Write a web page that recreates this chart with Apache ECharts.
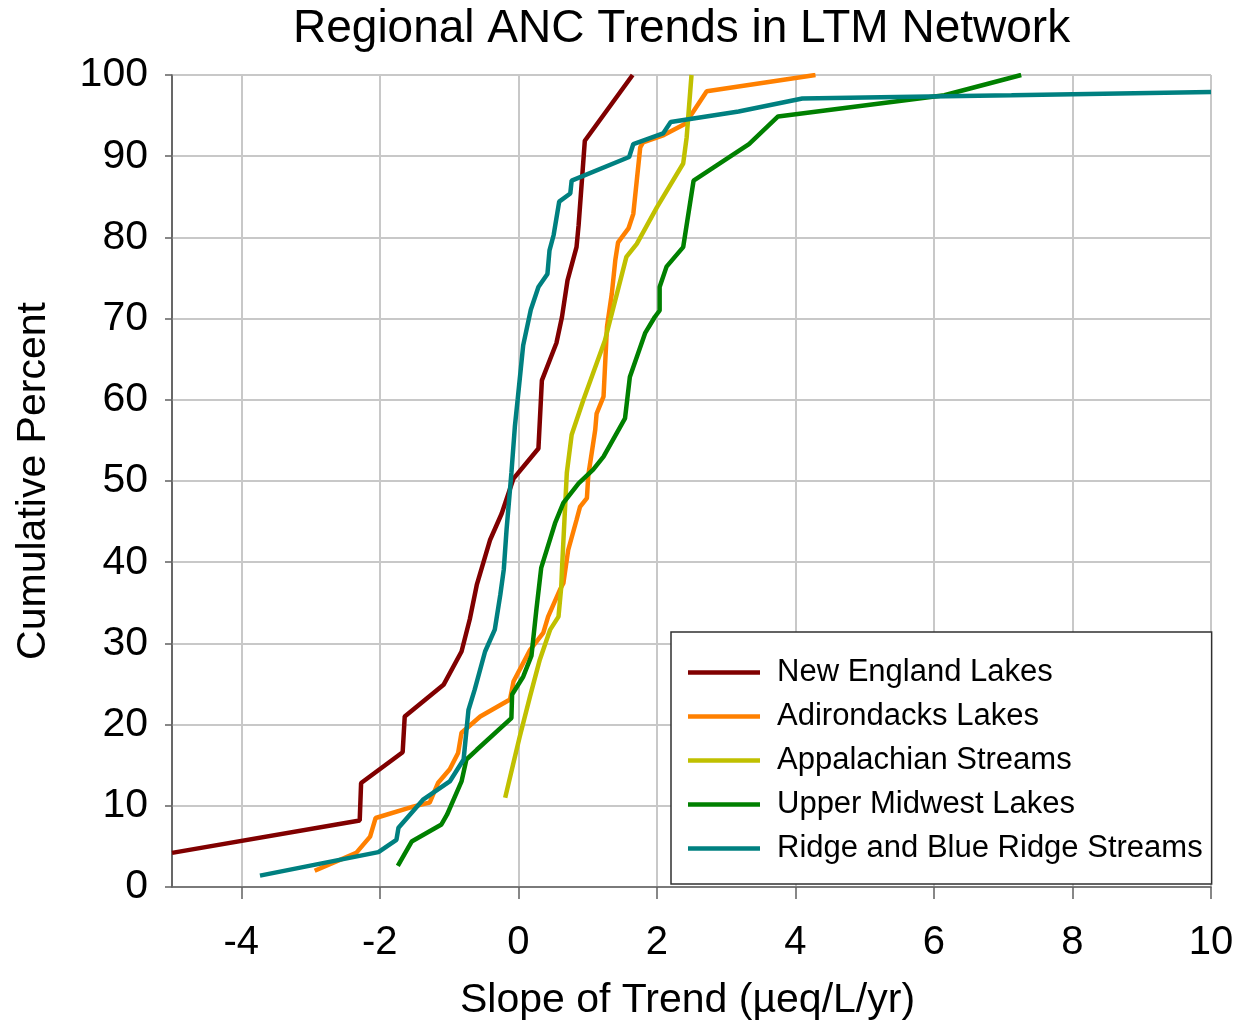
<!DOCTYPE html>
<html>
<head>
<meta charset="utf-8">
<title>Regional ANC Trends in LTM Network</title>
<script src="https://cdn.jsdelivr.net/npm/echarts@6/dist/echarts.min.js"></script>
<style>
  html, body { margin: 0; padding: 0; background: #ffffff; }
  #chart { width: 1243px; height: 1026px; }
</style>
</head>
<body>
<div id="chart"></div>
<script>
// Cumulative distributions of ANC trend slopes (µeq/L/yr) by region
const seriesNames = [
  'New England Lakes',
  'Adirondacks Lakes',
  'Appalachian Streams',
  'Upper Midwest Lakes',
  'Ridge and Blue Ridge Streams'
];

const newEnglandSlope = [-5.0, -2.29, -2.27, -1.67, -1.64, -1.08, -0.82, -0.70, -0.60, -0.41, -0.24, -0.07, 0.29, 0.34, 0.55, 0.63, 0.71, 0.84, 0.87, 0.96, 1.65];
const newEnglandPct   = [4.2, 8.2, 12.8, 16.6, 21.0, 24.9, 29.0, 33.0, 37.2, 42.7, 46.0, 50.3, 54.0, 62.4, 67.0, 70.2, 74.7, 78.8, 81.5, 91.9, 100];

const adirondacksSlope = [-2.94, -2.34, -2.14, -2.06, -1.52, -1.28, -1.16, -0.99, -0.87, -0.82, -0.55, -0.12, -0.07, 0.17, 0.36, 0.43, 0.60, 0.65, 0.72, 0.84, 0.89, 0.99, 1.01, 1.11, 1.13, 1.23, 1.28, 1.35, 1.40, 1.44, 1.59, 1.66, 1.76, 1.80, 2.10, 2.41, 2.72, 4.29];
const adirondacksPct   = [2.0, 4.2, 6.2, 8.5, 9.9, 10.4, 12.8, 14.5, 16.5, 19.0, 21.0, 23.1, 25.3, 29.2, 31.3, 33.3, 36.6, 37.4, 41.5, 45.2, 46.8, 47.9, 50.7, 56.3, 58.3, 60.4, 69.0, 73.1, 77.2, 79.4, 81.1, 82.9, 91.1, 91.7, 92.6, 94.0, 98.0, 100];

const appalachianSlope = [-0.19, -0.07, 0.02, 0.17, 0.31, 0.46, 0.58, 0.62, 0.63, 0.70, 0.77, 0.94, 1.25, 1.56, 1.71, 2.00, 2.38, 2.43, 2.50];
const appalachianPct   = [11.0, 15.3, 18.5, 23.5, 28.0, 31.7, 33.3, 37.0, 39.1, 51.0, 55.7, 60.0, 67.3, 77.6, 79.2, 83.7, 89.1, 92.3, 100];

const midwestSlope = [-1.74, -1.54, -1.11, -1.03, -0.82, -0.75, -0.60, -0.10, -0.09, 0.07, 0.19, 0.26, 0.33, 0.53, 0.65, 0.87, 1.08, 1.23, 1.54, 1.61, 1.83, 1.97, 2.04, 2.04, 2.14, 2.38, 2.53, 3.33, 3.75, 6.15, 7.26];
const midwestPct   = [2.6, 5.6, 7.7, 8.9, 13.0, 15.7, 16.9, 20.8, 23.7, 25.9, 28.5, 34.1, 39.3, 44.8, 47.3, 49.7, 51.4, 53.0, 57.7, 62.8, 68.2, 70.2, 71.0, 73.9, 76.4, 78.8, 87.0, 91.5, 94.9, 97.5, 100];

const blueRidgeSlope = [-3.73, -2.02, -1.76, -1.73, -1.37, -0.99, -0.79, -0.72, -0.63, -0.48, -0.34, -0.26, -0.21, -0.17, -0.10, -0.05, -0.01, 0.07, 0.18, 0.29, 0.42, 0.45, 0.51, 0.59, 0.75, 0.77, 1.60, 1.66, 2.09, 2.20, 3.18, 4.10, 5.46, 7.12, 10.0];
const blueRidgePct   = [1.4, 4.3, 5.8, 7.3, 10.8, 13.0, 15.7, 21.8, 24.3, 29.0, 31.7, 36.0, 39.1, 44.0, 51.0, 56.7, 60.0, 66.7, 71.1, 73.9, 75.5, 78.4, 80.3, 84.4, 85.4, 87.0, 89.9, 91.5, 92.8, 94.2, 95.5, 97.1, 97.3, 97.5, 97.9];

const xTickValues = [-4, -2, 0, 2, 4, 6, 8, 10];
const seriesColors = ['#800000', '#ff8000', '#c0c000', '#008000', '#008080'];

const slopes = [newEnglandSlope, adirondacksSlope, appalachianSlope, midwestSlope, blueRidgeSlope];
const pcts = [newEnglandPct, adirondacksPct, appalachianPct, midwestPct, blueRidgePct];

const FONT = "'Liberation Sans', Arial, Helvetica, sans-serif";

function pairs(xs, ys) {
  return xs.map((x, i) => [x, ys[i]]);
}

const series = seriesNames.map((name, i) => ({
  name: name,
  type: 'line',
  data: pairs(slopes[i], pcts[i]),
  showSymbol: false,
  symbol: 'none',
  smooth: false,
  clip: true,
  lineStyle: { color: seriesColors[i], width: 4.5 },
  itemStyle: { color: seriesColors[i] },
  emphasis: { disabled: true }
}));

const chart = echarts.init(document.getElementById('chart'), null, { renderer: 'canvas' });

chart.setOption({
  backgroundColor: '#ffffff',
  animation: false,
  title: {
    text: 'Regional ANC Trends in LTM Network',
    left: 293,
    top: 6,
    padding: 0,
    textStyle: { fontFamily: FONT, fontSize: 46, fontWeight: 'normal', color: '#000000' }
  },
  grid: {
    left: 172,
    right: 32,
    top: 75,
    bottom: 138,
    show: true,
    borderColor: '#000000',
    borderWidth: 1,
    backgroundColor: '#ffffff'
  },
  legend: {
    orient: 'vertical',
    left: 671,
    top: 632,
    width: 539,
    padding: [25, 9, 20, 17],
    itemGap: 13,
    itemWidth: 72,
    itemHeight: 4.5,
    icon: 'rect',
    backgroundColor: '#ffffff',
    borderColor: '#303030',
    borderWidth: 1.5,
    borderRadius: 0,
    selectedMode: false,
    textStyle: {
      fontFamily: FONT,
      fontSize: 31,
      lineHeight: 31,
      color: '#000000',
      padding: [0, 0, 0, 12]
    },
    data: seriesNames
  },
  xAxis: {
    type: 'value',
    min: -5,
    max: 10,
    interval: 1,
    name: 'Slope of Trend (µeq/L/yr)',
    nameLocation: 'middle',
    nameGap: 93,
    nameTextStyle: { fontFamily: FONT, fontSize: 41, color: '#000000', padding: [0, 8, 0, 0] },
    axisLine: { show: true, onZero: false, lineStyle: { color: '#606060', width: 1.5 } },
    axisTick: { show: true, inside: false, length: 12, customValues: xTickValues, lineStyle: { color: '#606060', width: 1.5 } },
    axisLabel: { show: true, customValues: xTickValues, margin: 36, fontFamily: FONT, fontSize: 40, color: '#000000' },
    splitLine: { show: true, lineStyle: { color: '#c8c8c8', width: 2 } }
  },
  yAxis: {
    type: 'value',
    min: 0,
    max: 100,
    interval: 10,
    name: 'Cumulative Percent',
    nameLocation: 'middle',
    nameRotate: 90,
    nameGap: 118,
    nameTextStyle: { fontFamily: FONT, fontSize: 41, color: '#000000' },
    axisLine: { show: true, onZero: false, lineStyle: { color: '#606060', width: 1.5 } },
    axisTick: { show: true, inside: false, length: 7, lineStyle: { color: '#606060', width: 1.5 } },
    axisLabel: { margin: 24, fontFamily: FONT, fontSize: 41, color: '#000000' },
    splitLine: { show: true, lineStyle: { color: '#c8c8c8', width: 2 } }
  },
  series: series
});
</script>
</body>
</html>
